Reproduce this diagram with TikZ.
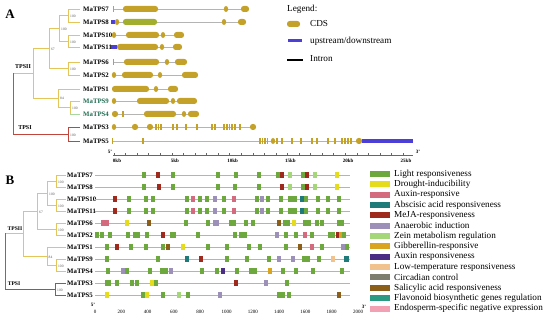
\documentclass[tikz,border=0pt]{standalone}
\usepackage{fontspec}
\setmainfont{Liberation Serif}
\definecolor{cdsc}{HTML}{C4A22A}
\definecolor{cdsg}{HTML}{A2AE2E}
\definecolor{updown}{HTML}{4B3FD8}
\definecolor{intronc}{HTML}{B4B4B4}
\definecolor{treey}{HTML}{E3C55A}
\definecolor{treer}{HTML}{C0453A}
\definecolor{treeg}{HTML}{707070}
\definecolor{leafg}{HTML}{A8D8A0}
\definecolor{labg}{HTML}{1E6B50}
\definecolor{mG}{HTML}{6DA83E}
\definecolor{mY}{HTML}{E6DC1E}
\definecolor{mAR}{HTML}{D46A7E}
\definecolor{mAB}{HTML}{1F7A7A}
\definecolor{mMJ}{HTML}{9E2A1E}
\definecolor{mAN}{HTML}{9C90B8}
\definecolor{mZN}{HTML}{A6D67A}
\definecolor{mGB}{HTML}{D9A520}
\definecolor{mAX}{HTML}{4B2E83}
\definecolor{mLT}{HTML}{F2C28E}
\definecolor{mCC}{HTML}{7E7E6E}
\definecolor{mSA}{HTML}{8B5E1A}
\definecolor{mFL}{HTML}{2A9A82}
\definecolor{mEN}{HTML}{F2A0B4}
\tikzset{
  lbl/.style={font=\fontsize{6.8}{8}\selectfont\bfseries, anchor=west, inner sep=0},
  bs/.style={font=\fontsize{3.6}{4}\selectfont, text=black!65, inner sep=0, anchor=west},
  clade/.style={font=\fontsize{6}{7}\selectfont\bfseries, inner sep=0},
  panel/.style={font=\fontsize{13}{14}\selectfont\bfseries, inner sep=0},
  axl/.style={font=\fontsize{5}{6}\selectfont\bfseries, inner sep=0},
  leg/.style={font=\fontsize{9.2}{10}\selectfont, anchor=west, inner sep=0},
  ty/.style={draw=treey, line width=0.8pt},
  tr/.style={draw=treer, line width=0.8pt},
  tg/.style={draw=treeg, line width=0.8pt},
  tl/.style={draw=leafg, line width=0.8pt},
  bline/.style={draw=intronc, line width=0.8pt}
}
\newcommand\cdsbox[4][cdsc]{\fill[#1,rounded corners=2.6pt] (#2,#4-3) rectangle (#3,#4+3);}
\newcommand\cdsdot[2]{\fill[cdsc] (#1,#2) ellipse (2.2pt and 3pt);}
\newcommand\cdsbar[2]{\fill[cdsc] (#1-0.6,#2-3) rectangle (#1+0.6,#2+3);}
\newcommand\utr[3]{\fill[updown] (#1,#3-1.8) rectangle (#2,#3+1.8);}
\newcommand\intr[3]{\draw[intronc, line width=0.9pt] (#1,#3) -- (#2,#3);}
\newcommand\mrow[2]{\draw[bline] (95,#1) -- (350,#1);
  \foreach \x/\w/\c in {#2} {\fill[m\c] (\x-\w/2,#1-2.6) rectangle (\x+\w/2,#1+2.6);}}
\begin{document}
\begin{tikzpicture}[x=1pt,y=-1pt]
\useasboundingbox (0,0) rectangle (550,320);
% ================= Panel A =================
\node[panel] (pA) at (10,14) {A};
% tree
\draw[ty] (80,9) -- (68,9) -- (68,22) -- (80,22);
\draw[ty] (68,15.5) -- (59,15.5) -- (59,41) -- (68,41);
\draw[ty] (80,35) -- (68,35) -- (68,47) -- (80,47);
\draw[ty] (59,28) -- (49,28) -- (49,68.5) -- (68,68.5);
\draw[ty] (80,62) -- (68,62) -- (68,75) -- (80,75);
\draw[ty] (49,48) -- (33,48) -- (33,98) -- (58,98);
\draw[ty] (80,89) -- (58,89) -- (58,107.5) -- (70,107.5);
\draw[tl] (80,101) -- (70,101);
\draw[tl] (70,114) -- (80,114);
\draw[ty] (70,101) -- (70,114);
\draw[ty] (33,73) -- (13,73);
\draw[tg] (13,73) -- (13,134);
\draw[tr] (13,134) -- (68,134);
\draw[tr] (80,127) -- (68,127) -- (68,141) -- (80,141);
\node[clade] (tIIa) at (23,67) {TPSII};
\node[clade] (tIa) at (25,128) {TPSI};
\node[bs] (ba1) at (70,16.5) {100};
\node[bs] (ba2) at (61,29.5) {100};
\node[bs] (ba3) at (70,42.5) {100};
\node[bs] (ba4) at (51,49.5) {67};
\node[bs] (ba5) at (70,69.5) {100};
\node[bs] (ba6) at (60,98.5) {84};
\node[bs] (ba7) at (72,108.5) {100};
\node[bs] (ba8) at (70,135) {100};
% labels
\node[lbl] (a7) at (83,9) {MaTPS7};
\node[lbl] (a8) at (83,22) {MaTPS8};
\node[lbl] (a10) at (83,35) {MaTPS10};
\node[lbl] (a11) at (83,47) {MaTPS11};
\node[lbl] (a6) at (83,62) {MaTPS6};
\node[lbl] (a2) at (83,75) {MaTPS2};
\node[lbl] (a1) at (83,89) {MaTPS1};
\node[lbl,text=labg] (a9) at (83,101) {MaTPS9};
\node[lbl,text=labg] (a4) at (83,114) {MaTPS4};
\node[lbl] (a3) at (83,127) {MaTPS3};
\node[lbl] (a5) at (83,141) {MaTPS5};
% gene structures
\intr{113}{249}{9} \cdsbar{113.5}{9} \cdsbox{123}{158}{9} \cdsdot{226}{9} \cdsbox{241}{249}{9}
\intr{112}{246}{22} \utr{111}{115}{22} \cdsdot{117}{22} \cdsbox[cdsg]{123}{157}{22} \cdsdot{224}{22} \cdsbox{238}{246}{22}
\intr{113}{184}{35} \cdsdot{114}{35} \cdsbox{126}{159}{35} \cdsdot{163}{35} \cdsbox{174}{184}{35}
\intr{111}{182}{47} \utr{111}{117}{47} \cdsbox{117}{158}{47} \cdsdot{162}{47} \cdsbox{173}{182}{47}
\intr{113}{187}{62} \cdsbar{113.5}{62} \cdsbox{124}{159}{62} \cdsdot{167}{62} \cdsbox{175}{187}{62}
\intr{113}{198}{75} \cdsdot{114}{75} \cdsbox{122}{153}{75} \cdsdot{160}{75} \cdsbox{182}{198}{75}
\intr{112}{178}{89} \cdsbox{112}{149}{89} \cdsdot{156}{89} \cdsbox{168}{178}{89}
\intr{113}{197}{101} \cdsdot{114}{101} \cdsbox{137}{169}{101} \cdsdot{173}{101} \cdsbox{177}{197}{101}
\intr{112}{199}{114} \cdsbox{112}{118}{114} \cdsbar{123}{114} \cdsbox{144}{176}{114} \cdsdot{184}{114} \cdsbox{188}{199}{114}
\intr{113}{256}{127} \cdsdot{114}{127} \cdsbox{132}{138}{127} \cdsbox{147}{153}{127}
\foreach \t in {156,158.5,161,173,177,186,197,212,215,224,227,229.5,232,235,240} {\cdsbar{\t}{127}}
\cdsbox{250}{256}{127}
\intr{112}{362}{141} \utr{362}{413}{141}
\foreach \t in {112.5,143,260,262.5,265,267.5,277,282,292,301,312,317,328,335,342,345,348,351} {\cdsbar{\t}{141}}
\cdsdot{273}{141} \cdsbox{356}{362}{141}
% axis A
\draw[black!60, line width=0.5pt] (113,155) -- (413,155);
\foreach \k in {0,...,25} {\draw[black!60, line width=0.4pt] (114+11.56*\k,155) -- (114+11.56*\k,153);}
\foreach \k/\s in {0/0kb,1/5kb,2/10kb,3/15kb,4/20kb,5/25kb} {\node[axl] (ka\k) at (117+57.8*\k,161) {\s};}
\node[axl] (a5p) at (110,151.5) {5'};
\node[axl] (a3p) at (418,151.5) {3'};
% legend A
\node[leg] (legt) at (287,9) {Legend:};
\fill[cdsc, rounded corners=2.6pt] (287,21) rectangle (300,27);
\node[leg] (legc) at (310,24) {CDS};
\fill[updown] (288,39.5) rectangle (302,42.5);
\node[leg] (legu) at (310,41) {upstream/downstream};
\draw[black, line width=1.1pt] (287,60) -- (303,60);
\node[leg] (legi) at (310,59) {Intron};
% ================= Panel B =================
\node[panel] (pB) at (10,180) {B};
\draw[ty] (66,175) -- (56,175) -- (56,187) -- (66,187);
\draw[ty] (56,181) -- (47,181) -- (47,205) -- (56,205);
\draw[ty] (66,199) -- (56,199) -- (56,211) -- (66,211);
\draw[ty] (47,193) -- (37,193) -- (37,229) -- (56,229);
\draw[ty] (66,223) -- (56,223) -- (56,235) -- (66,235);
\draw[ty] (37,211) -- (23,211) -- (23,256.5) -- (47,256.5);
\draw[ty] (66,247) -- (47,247) -- (47,265) -- (56,265);
\draw[ty] (66,259) -- (56,259) -- (56,271) -- (66,271);
\draw[ty] (23,233.5) -- (5,233.5);
\draw[tg] (5,233.5) -- (5,289);
\draw[tr] (5,289) -- (55,289);
\draw[tr] (66,283) -- (55,283) -- (55,295) -- (66,295);
\node[clade,font=\fontsize{5.6}{6}\selectfont\bfseries] (tIIb) at (15,229) {TPSII};
\node[clade,font=\fontsize{5.6}{6}\selectfont\bfseries] (tIb) at (14,284) {TPSI};
\node[bs] (bb1) at (58,182) {100};
\node[bs] (bb2) at (49,194) {100};
\node[bs] (bb3) at (58,206) {100};
\node[bs] (bb4) at (39,212) {67};
\node[bs] (bb5) at (58,230) {100};
\node[bs] (bb6) at (48.5,257.5) {84};
\node[bs] (bb7) at (58,266) {100};
\node[bs] (bb8) at (57,290) {100};
\node[lbl] (b7) at (67,175) {MaTPS7};
\node[lbl] (b8) at (67,187) {MaTPS8};
\node[lbl] (b10) at (67,199) {MaTPS10};
\node[lbl] (b11) at (67,211) {MaTPS11};
\node[lbl] (b6) at (67,223) {MaTPS6};
\node[lbl] (b2) at (67,235) {MaTPS2};
\node[lbl] (b1) at (67,247) {MaTPS1};
\node[lbl] (b9) at (67,259) {MaTPS9};
\node[lbl] (b4) at (67,271) {MaTPS4};
\node[lbl] (b3) at (67,283) {MaTPS3};
\node[lbl] (b5) at (67,295) {MaTPS5};
% motif rows
\mrow{175}{144/4/G,158/4/MJ,173/4/G,218/4/G,236/4/G,259/4/G,278/4/G,282/4/MJ,290/4/ZN,303/4/G,307/4/MJ,315/4/ZN,337/4/Y}
\mrow{187}{144/4/G,159/4/MJ,173/4/G,218/4/G,235/4/G,259/4/G,282/4/MJ,290/4/ZN,303/4/G,307/4/MJ,315/4/ZN,337/4/Y}
\mrow{199}{115/4/MJ,129/4/G,146/4/G,153/4/G,187/4/G,193/4/AR,200/4/G,207/4/G,215/4/AN,224/4/G,234/4/AR,257/4/G,262/4/AN,268/4/G,281/4/G,292/9/G,302/4/AB,306/4/G,318/4/G,328/4/G,339/4/G}
\mrow{211}{115/4/MJ,129/4/G,146/4/G,153/4/G,187/4/G,193/4/AR,200/4/G,207/4/G,215/4/AN,224/4/G,234/4/AR,257/4/G,262/4/AN,268/4/G,281/4/G,292/9/G,302/4/AB,306/4/G,318/4/G,328/4/G,339/4/G}
\mrow{223}{103/4/AR,107/4/AR,127/4/Y,149/4/SA,186/4/G,208/4/G,215.5/6/AN,232/7/G,246/4/G,253/4/G,279/4/SA,284.5/4/G,288/4/G,293.5/4/Y,305/4/G,308.5/4/G,317/4/G,322/4/G,340.5/7/G}
\mrow{235}{97/4/G,101.5/4/G,110/4/G,128/4/G,136.5/7/G,147/4/G,163/4/MJ,172.5/6/G,198/4/G,235/4/G,243/8/G,277/4/AN,286/4/G,295.5/4/G,305/4/AR,312/4/G,331.5/7/G,337/3/MJ,340/3/GB,344/4/G}
\mrow{247}{107/4/G,117/4/MJ,131/4/G,146/4/G,163/4/G,168/4/SA,183/4/Y,208/4/G,227/4/G,249/4/G,260/4/G,286/4/G,300/4/SA,312/4/AR,322/4/G,343/4/AN,347/4/G}
\mrow{259}{107/4/G,158/4/G,187/4/AB,201/4/MJ,227/4/G,247/4/G,269/4/G,279/4/AN,292.5/4/AN,304/4/G,307.5/4/G,319/4/G,333/4/LT,346.5/5/AB}
\mrow{271}{108/4/G,123/4/AN,127/4/G,150/4/G,162/4/G,165.5/4/G,171/4/AN,202/4/G,217/4/G,223/4/AX,237/4/G,251/4/G,255/4/G,270/4/GB,282.5/4/G,296/4/G,313/4/G,342/4/G}
\mrow{283}{107.5/6/G,117/4/G,132/4/G,137/4/G,152/4/Y,155.5/4/G,236/4/MJ,266/4/AN,287/4/G}
\mrow{295}{107/4/Y,143/4/G,146.5/4/Y,163/4/G,179/4/ZN,188/4/G,220/4/AN,279/4/G,283/4/G,289/4/G,339/4/SA}
% axis B
\foreach \v in {0,200,...,2000} {\node[axl,font=\fontsize{5}{6}\selectfont] (bt\v) at (95+\v*0.1315,312) {\v};}
\node[axl] (b5p) at (93,305) {5'};
\node[axl] (b3p) at (364,307) {3'};
% legend B
\foreach \i/\c/\t in {0/G/Light responsiveness,1/Y/Drought-inducibility,2/AR/Auxin-responsive,3/AB/Abscisic acid responsiveness,4/MJ/MeJA-responsiveness,5/AN/Anaerobic induction,6/ZN/Zein metabolism regulation,7/GB/Gibberellin-responsive,8/AX/Auxin responsiveness,9/LT/Low-temperature responsiveness,10/CC/Circadian control,11/SA/Salicylic acid responsiveness,12/FL/Flavonoid biosynthetic genes regulation,13/EN/Endosperm-specific negative expression}
{\fill[m\c] (370,174+10.35*\i-3) rectangle (390,174+10.35*\i+3);
 \node[leg] (lb\i) at (394,174+10.35*\i) {\t};}
\end{tikzpicture}
\end{document}
